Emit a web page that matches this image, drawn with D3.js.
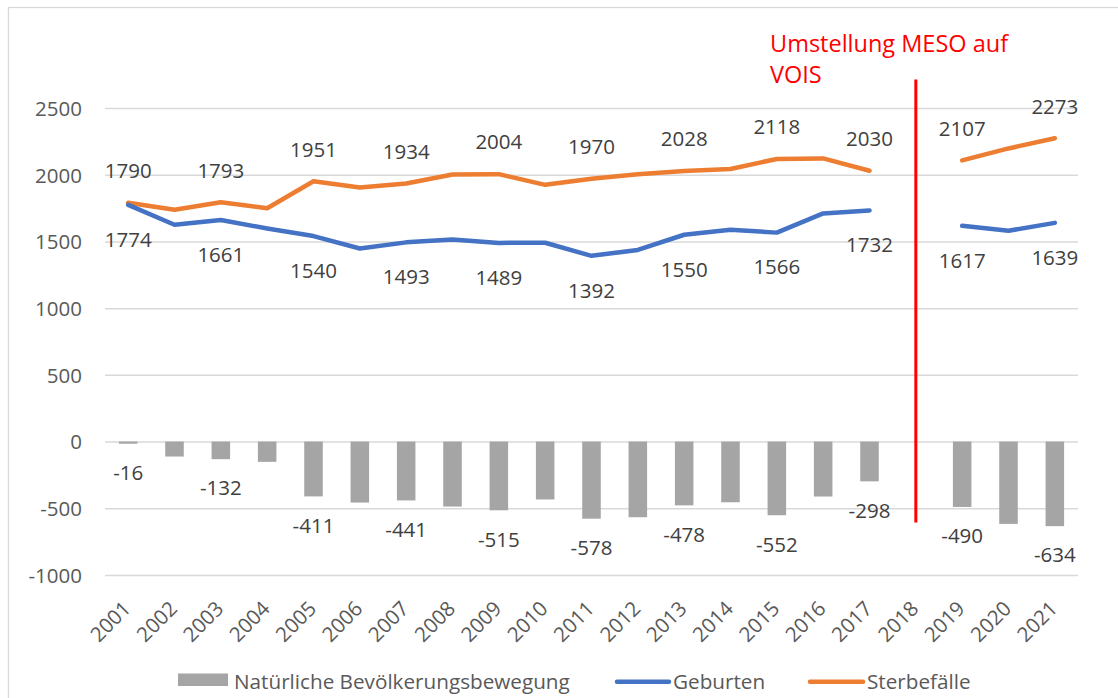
<!DOCTYPE html>
<html>
<head>
<meta charset="utf-8">
<script src="https://cdn.jsdelivr.net/npm/d3@7"></script>
<style>
  body { margin: 0; background: #fff; }
  svg { display: block; font-family: 'Open Sans', sans-serif; }
</style>
</head>
<body>
<svg></svg>
<script>
let years = ['2001', '2002', '2003', '2004', '2005', '2006', '2007', '2008', '2009', '2010', '2011',
  '2012', '2013', '2014', '2015', '2016', '2017', '2018', '2019', '2020', '2021'];
let geburten = [1774, 1625, 1661, 1597, 1540, 1447, 1493, 1515, 1489, 1490, 1392,
  1436, 1550, 1588, 1566, 1710, 1732, null, 1617, 1580, 1639];
let sterbefaelle = [1790, 1737, 1793, 1749, 1951, 1904, 1934, 2002, 2004, 1924, 1970,
  2003, 2028, 2043, 2118, 2122, 2030, null, 2107, 2197, 2273];
let natuerlich = [-16, -112, -132, -152, -411, -457, -441, -487, -515, -434, -578,
  -567, -478, -455, -552, -412, -298, null, -490, -617, -634];
let yTicks = [-1000, -500, 0, 500, 1000, 1500, 2000, 2500];
let seriesNames = ['Natürliche Bevölkerungsbewegung', 'Geburten', 'Sterbefälle'];
let annotationLines = ['Umstellung MESO auf', 'VOIS'];
let annotationYear = '2018';
let annotationRange = [2713, -607];

let width = 1118;
let height = 698;
let plotLeft = 105;
let plotRight = 1078;
let plotTop = 108;
let plotBottom = 575;

let svg = d3.select('svg').attr('width', width).attr('height', height);

let xScale = d3.scaleBand().domain(years).range([plotLeft, plotRight]).padding(0);
let yScale = d3.scaleLinear().domain([-1000, 2500]).range([plotBottom, plotTop]);
let cx = d => xScale(d) + xScale.bandwidth() / 2;
let barWidth = xScale.bandwidth() * 0.4;

// chart border
svg.append('rect').
attr('x', 8.5).attr('y', 7.5).
attr('width', width + 20).attr('height', height + 20).
attr('fill', 'none').attr('stroke', '#d9d9d9').attr('stroke-width', 1.3);

// gridlines + y labels
let yAxis = d3.axisLeft(yScale).
tickValues(yTicks).
tickFormat(d => String(d)).
tickSize(-(plotRight - plotLeft)).
tickPadding(23);
let yg = svg.append('g').attr('transform', 'translate(' + plotLeft + ',0)').call(yAxis);
yg.select('.domain').remove();
yg.selectAll('line').attr('stroke', '#d9d9d9').attr('stroke-width', 1.5);
yg.selectAll('text').
attr('fill', '#595959').
attr('font-size', '20.5px').
attr('font-family', 'Open Sans').
attr('dy', '0.36em');

// x labels
let xAxis = d3.axisBottom(xScale).tickSize(0);
let xg = svg.append('g').attr('transform', 'translate(0,' + plotBottom + ')').call(xAxis);
xg.select('.domain').remove();
xg.selectAll('text').
attr('fill', '#595959').
attr('font-size', '20.5px').
attr('font-family', 'Open Sans').
attr('x', 0).attr('y', 0).attr('dy', 0).
attr('text-anchor', 'end').
attr('transform', 'translate(4,35) rotate(-45)');

// bars
let barData = years.map((y, i) => ({ year: y, value: natuerlich[i], i: i })).filter(d => d.value != null);
svg.selectAll('.bar').
data(barData).
enter().
append('rect').
attr('class', 'bar').
attr('x', d => cx(d.year) - barWidth / 2).
attr('width', barWidth).
attr('y', d => yScale(Math.max(0, d.value))).
attr('height', d => Math.abs(yScale(d.value) - yScale(0))).
attr('fill', '#a5a5a5');

// lines
let drawLine = (values, color) => {
  let line = d3.line().
  defined(d => d != null).
  x((d, i) => cx(years[i])).
  y(d => yScale(d));
  svg.append('path').
  datum(values).
  attr('d', line).
  attr('fill', 'none').
  attr('stroke', color).
  attr('stroke-width', 4.5).
  attr('stroke-linejoin', 'round').
  attr('stroke-linecap', 'round');
};
drawLine(sterbefaelle, '#ed7d31');
drawLine(geburten, '#4472c4');

// data labels (every other year)
let drawLabels = (values, offset) => {
  svg.selectAll(null).
  data(values.map((v, i) => ({ v: v, i: i })).filter(d => d.v != null && d.i % 2 === 0)).
  enter().
  append('text').
  attr('x', d => cx(years[d.i])).
  attr('y', d => yScale(d.v) + offset).
  attr('text-anchor', 'middle').
  attr('font-size', '20.5px').
  attr('fill', '#404040').
  text(d => d.v);
};
drawLabels(sterbefaelle, -24.7);
drawLabels(geburten, 41.8);
drawLabels(natuerlich, 36.3);

// annotation
svg.append('line').
attr('x1', cx(annotationYear)).attr('x2', cx(annotationYear)).
attr('y1', yScale(annotationRange[0])).attr('y2', yScale(annotationRange[1])).
attr('stroke', '#ff0000').attr('stroke-width', 3);

svg.selectAll('.anno').
data(annotationLines).
enter().
append('text').
attr('class', 'anno').
attr('x', 770).
attr('y', (d, i) => 51.7 + i * 31.3).
attr('font-size', '23.5px').
attr('fill', '#ff0000').
text(d => d);

// legend
let legend = svg.append('g').attr('font-size', '20.7px').attr('fill', '#595959');
legend.append('rect').
attr('x', 178).attr('y', 673.5).attr('width', 50).attr('height', 12.5).
attr('fill', '#a5a5a5');
legend.append('text').attr('x', 234).attr('y', 689).text(seriesNames[0]);

legend.append('line').
attr('x1', 617).attr('x2', 669).attr('y1', 681.7).attr('y2', 681.7).
attr('stroke', '#4472c4').attr('stroke-width', 4.5).attr('stroke-linecap', 'round');
legend.append('text').attr('x', 673).attr('y', 689).text(seriesNames[1]);

legend.append('line').
attr('x1', 810).attr('x2', 863).attr('y1', 681.7).attr('y2', 681.7).
attr('stroke', '#ed7d31').attr('stroke-width', 4.5).attr('stroke-linecap', 'round');
legend.append('text').attr('x', 867).attr('y', 689).text(seriesNames[2]);
</script>
</body>
</html>
